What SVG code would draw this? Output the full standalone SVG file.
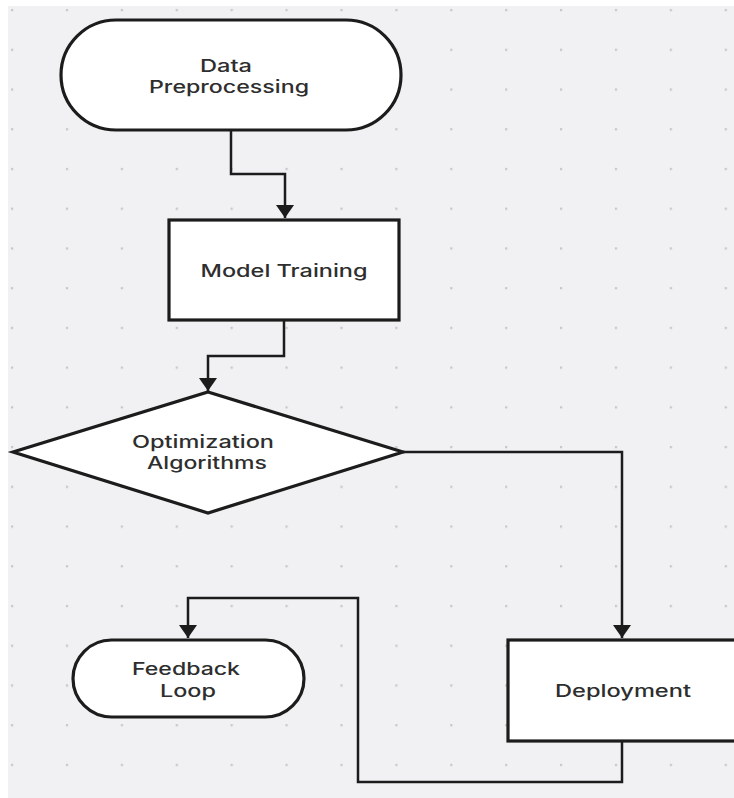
<svg xmlns="http://www.w3.org/2000/svg" width="734" height="798" viewBox="0 0 734 798">
  <style>
    .node { fill: #ffffff; stroke: #1c1c1c; stroke-width: 3.2; }
    .conn { fill: none; stroke: #1c1c1c; stroke-width: 2.5; stroke-linejoin: miter; }
    .lbl { font-family: Inter, Roboto, "Liberation Sans", sans-serif; font-size: 17px; font-weight: 500; fill: #2e2e2e; text-anchor: middle; }
  </style>
  <defs>
    <pattern id="dots" patternUnits="userSpaceOnUse" x="0" y="0" width="54.9" height="39.73">
      <rect x="11" y="9" width="2.2" height="2.2" fill="#c6c6ca"/>
    </pattern>
    <marker id="arrow" viewBox="0 0 13 18" refX="13" refY="9" markerWidth="13" markerHeight="18" markerUnits="userSpaceOnUse" orient="auto">
      <path d="M0,0 L13,9 L0,18 z" fill="#1c1c1c"/>
    </marker>
  </defs>

  <rect x="0" y="0" width="734" height="798" fill="#ffffff"/>
  <rect x="8" y="6" width="726" height="792" fill="#f1f1f3"/>
  <rect x="8" y="6" width="726" height="792" fill="url(#dots)"/>

  <g id="connectors">
    <path class="conn" d="M231,131 V174 H285 V218" marker-end="url(#arrow)"/>
    <path class="conn" d="M284,321 V356 H208 V391" marker-end="url(#arrow)"/>
    <path class="conn" d="M403,452 H622 V638" marker-end="url(#arrow)"/>
    <path class="conn" d="M622,742 V782 H358 V598 H188 V638" marker-end="url(#arrow)"/>
  </g>

  <g id="data-preprocessing">
    <rect class="node" x="61" y="20" width="340" height="110" rx="55" ry="55"/>
    <text class="lbl" x="226" y="72" textLength="52" lengthAdjust="spacingAndGlyphs">Data</text>
    <text class="lbl" x="229" y="93" textLength="160" lengthAdjust="spacingAndGlyphs">Preprocessing</text>
  </g>

  <g id="model-training">
    <rect class="node" x="169" y="220" width="230" height="100"/>
    <text class="lbl" x="284" y="277" textLength="167" lengthAdjust="spacingAndGlyphs">Model Training</text>
  </g>

  <g id="optimization-algorithms">
    <polygon class="node" points="208,392 403,452 208,513 13,452"/>
    <text class="lbl" x="203" y="448" textLength="142" lengthAdjust="spacingAndGlyphs">Optimization</text>
    <text class="lbl" x="207" y="469" textLength="120" lengthAdjust="spacingAndGlyphs">Algorithms</text>
  </g>

  <g id="deployment">
    <rect class="node" x="508" y="640" width="240" height="101"/>
    <text class="lbl" x="623" y="697" textLength="136" lengthAdjust="spacingAndGlyphs">Deployment</text>
  </g>

  <g id="feedback-loop">
    <rect class="node" x="73" y="640" width="231" height="77" rx="38.5" ry="38.5"/>
    <text class="lbl" x="186" y="675" textLength="108" lengthAdjust="spacingAndGlyphs">Feedback</text>
    <text class="lbl" x="188" y="697" textLength="56" lengthAdjust="spacingAndGlyphs">Loop</text>
  </g>
</svg>
